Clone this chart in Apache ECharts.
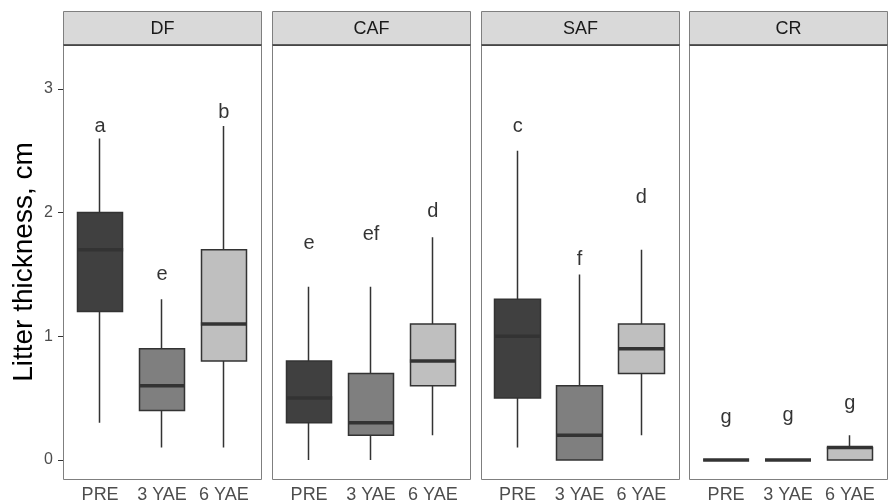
<!DOCTYPE html>
<html>
<head>
<meta charset="utf-8">
<style>
  html, body { margin: 0; padding: 0; background: #fff; }
  #chart { width: 890px; height: 504px; }
</style>
<script src="https://cdn.jsdelivr.net/npm/echarts@6/dist/echarts.min.js"></script>
</head>
<body>
<div id="chart"></div>
<script>
// facets and x categories
const panels = ['DF', 'CAF', 'SAF', 'CR'];
const periods = ['PRE', '3 YAE', '6 YAE'];
const yTicks = [0, 1, 2, 3];

// box stats per period: [whisker low, Q1, median, Q3, whisker high]
const statsDF = [[0.3, 1.2, 1.7, 2.0, 2.6], [0.1, 0.4, 0.6, 0.9, 1.3], [0.1, 0.8, 1.1, 1.7, 2.7]];
const statsCAF = [[0.0, 0.3, 0.5, 0.8, 1.4], [0.0, 0.2, 0.3, 0.7, 1.4], [0.2, 0.6, 0.8, 1.1, 1.8]];
const statsSAF = [[0.1, 0.5, 1.0, 1.3, 2.5], [0.0, 0.0, 0.2, 0.6, 1.5], [0.2, 0.7, 0.9, 1.1, 1.7]];
const statsCR = [[0, 0, 0, 0, 0], [0, 0, 0, 0, 0], [0, 0, 0.1, 0.1, 0.2]];

// significance letters and where they sit
const lettersDF = ['a', 'e', 'b'];
const lettersCAF = ['e', 'ef', 'd'];
const lettersSAF = ['c', 'f', 'd'];
const lettersCR = ['g', 'g', 'g'];
const letterYDF = [2.70, 1.50, 2.81];
const letterYCAF = [1.75, 1.82, 2.01];
const letterYSAF = [2.70, 1.62, 2.12];
const letterYCR = [0.34, 0.36, 0.46];

const allStats = [statsDF, statsCAF, statsSAF, statsCR];
const allLetters = [lettersDF, lettersCAF, lettersSAF, lettersCR];
const allLetterY = [letterYDF, letterYCAF, letterYSAF, letterYCR];

const fills = ['#404040', '#7f7f7f', '#bfbfbf'];
const FONT = 'Liberation Sans';

// layout (ggplot-like facets)
const panelLeft = [63, 272, 480.5, 689];
const panelW = 198;
const stripTop = 11, panelTop = 45, panelBottom = 479;
const pad = panelW / 3.2 * 0.1;

const chart = echarts.init(document.getElementById('chart'), null, { renderer: 'canvas' });

const grids = [], xAxes = [], yAxes = [], series = [], graphics = [];

panels.forEach((name, i) => {
  grids.push({
    left: panelLeft[i] + pad,
    width: panelW - 2 * pad,
    top: panelTop,
    height: panelBottom - panelTop,
  });
  xAxes.push({
    type: 'category',
    gridIndex: i,
    data: periods,
    boundaryGap: true,
    axisLine: { show: false },
    axisTick: { alignWithLabel: true, interval: 0, length: 5, lineStyle: { color: '#333', width: 1 } },
    axisLabel: { interval: 0, hideOverlap: false, color: '#4d4d4d', fontSize: 18, fontFamily: FONT, margin: 7 },
    splitLine: { show: false },
  });
  yAxes.push({
    type: 'value',
    gridIndex: i,
    min: -0.154,
    max: 3.355,
    offset: pad,
    axisLine: { show: false },
    splitLine: { show: false },
    axisTick: { show: i === 0, length: 5, customValues: yTicks, lineStyle: { color: '#333' } },
    axisLabel: { show: i === 0, customValues: yTicks, color: '#4d4d4d', fontSize: 16, fontFamily: FONT, margin: 10 },
    name: i === 0 ? 'Litter thickness, cm' : '',
    nameLocation: 'middle',
    nameGap: 25,
    nameTextStyle: { color: '#000', fontSize: 28, fontFamily: FONT },
  });

  const stats = allStats[i];
  series.push({
    type: 'candlestick',
    xAxisIndex: i,
    yAxisIndex: i,
    barWidth: 46,
    silent: true,
    data: stats.map((s, j) => ({
      value: [s[1], s[3], s[0], s[4]],
      itemStyle: {
        color: fills[j], color0: fills[j],
        borderColor: '#333', borderColor0: '#333', borderColorDoji: '#333',
        borderWidth: 1.5,
      },
    })),
  });
  // thick median bars
  series.push({
    type: 'scatter',
    xAxisIndex: i,
    yAxisIndex: i,
    symbol: 'rect',
    symbolSize: [46, 3.5],
    silent: true,
    z: 3,
    itemStyle: { color: '#333', opacity: 1 },
    data: stats.map((s, j) => [j, s[2]]),
  });
  // letters
  series.push({
    type: 'scatter',
    xAxisIndex: i,
    yAxisIndex: i,
    symbolSize: 0,
    silent: true,
    z: 4,
    label: {
      show: true,
      position: 'inside',
      color: '#000',
      fontSize: 20,
      fontFamily: FONT,
      formatter: (p) => allLetters[i][p.dataIndex],
    },
    data: allLetterY[i].map((y, j) => [j, y]),
  });

  // strip + frame
  const x0 = Math.round(panelLeft[i]) + 0.5;
  graphics.push({
    type: 'rect',
    shape: { x: x0, y: stripTop + 0.5, width: panelW, height: panelTop - stripTop },
    style: { fill: '#d9d9d9', stroke: '#7f7f7f', lineWidth: 1 },
  });
  graphics.push({
    type: 'rect',
    shape: { x: x0, y: panelTop + 0.5, width: panelW, height: panelBottom - panelTop },
    style: { fill: 'none', stroke: '#7f7f7f', lineWidth: 1 },
  });
  graphics.push({
    type: 'line',
    shape: { x1: x0, y1: panelTop, x2: x0 + panelW, y2: panelTop },
    style: { stroke: '#333', lineWidth: 1.5 },
  });
  graphics.push({
    type: 'text',
    x: x0 + panelW / 2,
    y: (stripTop + panelTop) / 2 + 1,
    style: { text: name, fill: '#1a1a1a', fontSize: 18, fontFamily: FONT, align: 'center', verticalAlign: 'middle' },
  });
});

chart.setOption({
  animation: false,
  backgroundColor: '#fff',
  grid: grids,
  xAxis: xAxes,
  yAxis: yAxes,
  series: series,
  graphic: graphics,
});
</script>
</body>
</html>
